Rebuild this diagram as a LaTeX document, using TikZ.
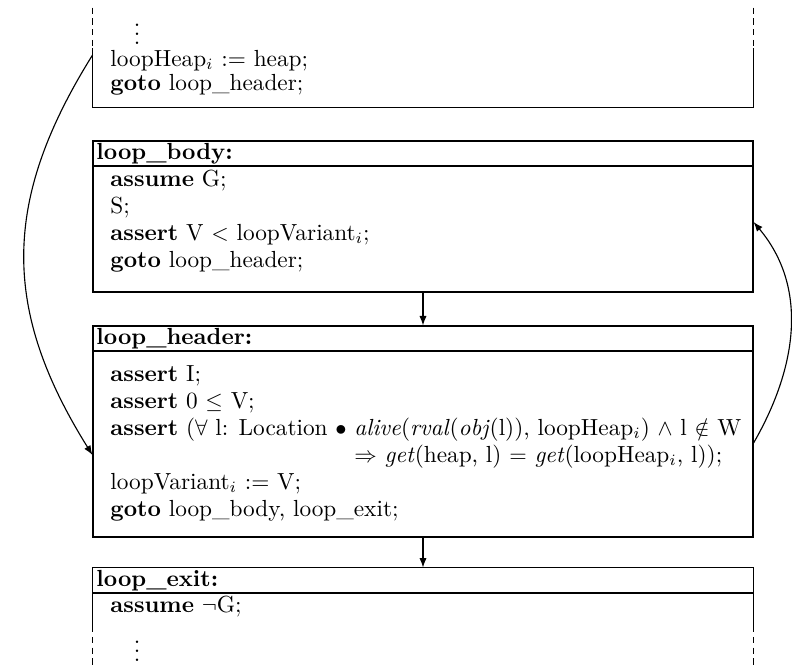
\documentclass[tikz,border=0pt]{standalone}
\usetikzlibrary{arrows.meta}
\newcommand\diagfont{\fontsize{10.35}{12.4}\selectfont}
\begin{document}
\begin{tikzpicture}[x=0.4444pt,y=-0.4444pt,
  lbl/.style={anchor=base west, inner sep=0pt, font=\diagfont},
  hdr/.style={anchor=base west, inner sep=0pt, font=\diagfont\bfseries},
  dotsnode/.style={anchor=center, inner sep=0pt, font=\diagfont},
  blockbox/.style={draw, line width=0.5pt, rectangle, inner sep=0pt, minimum width=293.3pt},
  openbox/.style={draw=none, rectangle, inner sep=0pt, minimum width=293.3pt},
  edgeline/.style={line width=0.5pt},
  dashside/.style={line width=0.5pt, dash pattern=on 2.8pt off 2pt},
  arr/.style={-{Latex[length=4.2pt,width=3.2pt]}, line width=0.5pt}]
\useasboundingbox (0,0) rectangle (792,668);

% ---------- top (open) box ----------
\node[openbox, minimum height=44pt] (topbox) at (423,57.5) {};
\draw[dashside] (topbox.north west) -- (topbox.west |- 0,48);
\draw[dashside] (topbox.north east) -- (topbox.east |- 0,48);
\draw[edgeline] (topbox.west |- 0,48) -- (topbox.south west) -- (topbox.south east) -- (topbox.east |- 0,48);
\node[dotsnode] (tdots) at (137,28) {$\vdots$};
\node[lbl] (t1) at (110,66) {loopHeap$_i$ := heap;};
\node[lbl] (t2) at (110,90) {\textbf{goto} loop\_header;};

% ---------- loop_body ----------
\node[blockbox, minimum height={151*0.4444pt}] (body) at (423,216.5) {};
\draw[edgeline] (body.west |- 0,166) -- (body.east |- 0,166);
\node[hdr] (bodyh) at (96,159) {loop\_body:};
\node[lbl] (b1) at (110,186) {\textbf{assume} G;};
\node[lbl] (b2) at (110,213) {S;};
\node[lbl] (b3) at (110,240) {\textbf{assert} V $<$ loopVariant$_i$;};
\node[lbl] (b4) at (110,267) {\textbf{goto} loop\_header;};

% ---------- loop_header ----------
\node[blockbox, minimum height={211*0.4444pt}] (header) at (423,431.5) {};
\draw[edgeline] (header.west |- 0,351) -- (header.east |- 0,351);
\node[hdr] (headerh) at (96,344) {loop\_header:};
\node[lbl] (h1) at (110,381) {\textbf{assert} I;};
\node[lbl] (h2) at (110,408) {\textbf{assert} 0 $\leq$ V;};
\node[lbl] (h3) at (110,435) {\textbf{assert} ($\forall$ l: Location $\bullet$ \textit{alive}(\textit{rval}(\textit{obj}(l)), loopHeap$_i$) $\wedge$ l $\notin$ W};
\node[lbl] (h4) at (110,462) {\phantom{\textbf{assert} ($\forall$ l: Location $\bullet$ }$\Rightarrow$ \textit{get}(heap, l) $=$ \textit{get}(loopHeap$_i$, l));};
\node[lbl] (h5) at (110,489) {loopVariant$_i$ := V;};
\node[lbl] (h6) at (110,516) {\textbf{goto} loop\_body, loop\_exit;};

% ---------- loop_exit (open) ----------
\node[openbox, minimum height={100*0.4444pt}] (exitbox) at (423,618) {};
\draw[edgeline] (exitbox.west |- 0,626) -- (exitbox.north west) -- (exitbox.north east) -- (exitbox.east |- 0,626);
\draw[edgeline] (exitbox.west |- 0,593) -- (exitbox.east |- 0,593);
\draw[dashside] (exitbox.west |- 0,626) -- (exitbox.south west);
\draw[dashside] (exitbox.east |- 0,626) -- (exitbox.south east);
\node[hdr] (exith) at (96,586) {loop\_exit:};
\node[lbl] (e1) at (110,612) {\textbf{assume} $\neg$G;};
\node[dotsnode] (edots) at (137,645) {$\vdots$};

% ---------- connectors ----------
\draw[arr] (body) -- (header);
\draw[arr] (header) -- (exitbox);
\coordinate (lstart) at (topbox.west |- 0,55);
\coordinate (lend) at (header.west |- 0,455);
\draw[arr] (lstart) to[out=238,in=122,looseness=1.1] (lend);
\coordinate (rstart) at (header.east |- 0,443);
\coordinate (rend) at (body.east |- 0,222);
\draw[arr] (rstart) to[out=60,in=-50] (rend);
\end{tikzpicture}
\end{document}
